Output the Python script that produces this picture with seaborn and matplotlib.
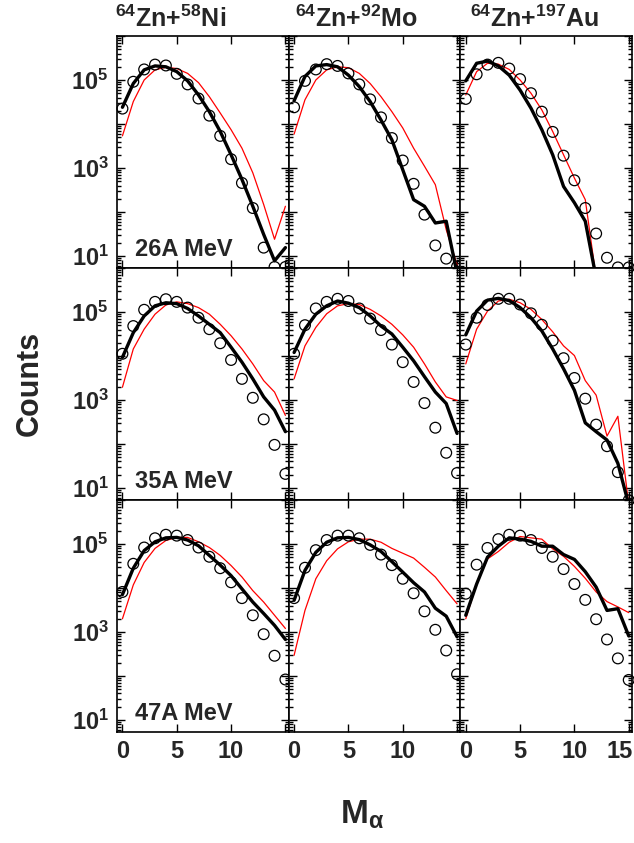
import numpy as np
import pandas as pd
import matplotlib
matplotlib.use("Agg")
import matplotlib.pyplot as plt
import matplotlib.transforms as mtransforms
import seaborn as sns
from matplotlib.ticker import LogLocator, FixedLocator, FuncFormatter, NullFormatter

# ---------------- data (log10 of counts) ----------------
mult = list(range(16))

# 26A MeV
exp_ni_26 = [4.35, 4.96, 5.24, 5.35, 5.33, 5.14, 4.90, 4.58, 4.19, 3.73, 3.20, 2.66, 2.09, 1.19, 0.75, 0.75]
blk_ni_26 = [4.38, 4.92, 5.23, 5.32, 5.30, 5.19, 4.98, 4.66, 4.28, 3.83, 3.30, 2.74, 2.13, 1.49, 0.89, 1.19]
red_ni_26 = [3.73, 4.51, 5.00, 5.23, 5.29, 5.26, 5.15, 4.94, 4.62, 4.25, 3.87, 3.45, 2.89, 2.17, 1.38, 2.13]

exp_mo_26 = [4.38, 4.98, 5.24, 5.36, 5.32, 5.15, 4.90, 4.56, 4.15, 3.68, 3.17, 2.64, 1.94, 1.24, 0.94, 0.76]
blk_mo_26 = [4.53, 5.08, 5.32, 5.35, 5.30, 5.11, 4.85, 4.51, 4.09, 3.64, 2.96, 2.28, 2.13, 1.75, 1.79, 0.60]
red_mo_26 = [3.77, 4.55, 5.00, 5.23, 5.30, 5.28, 5.15, 4.92, 4.62, 4.28, 3.91, 3.45, 3.04, 2.62, 1.60, 0.80]

exp_au_26 = [4.57, 5.13, 5.35, 5.39, 5.26, 5.02, 4.70, 4.28, 3.82, 3.28, 2.72, 2.09, 1.51, 0.96, 0.74, 0.74]
blk_au_26 = [4.98, 5.38, 5.43, 5.32, 5.11, 4.77, 4.36, 3.87, 3.30, 2.58, 2.21, 1.79, 0.50, 0.0, 0.0, 0.0]
red_au_26 = [4.66, 5.19, 5.38, 5.36, 5.24, 5.00, 4.70, 4.32, 3.83, 3.30, 2.77, 2.28, 0.50, 0.0, 0.0, 0.0]

# 35A MeV
exp_ni_35 = [4.05, 4.68, 5.05, 5.23, 5.29, 5.23, 5.10, 4.87, 4.61, 4.29, 3.91, 3.48, 3.05, 2.56, 1.98, 1.32]
blk_ni_35 = [3.97, 4.53, 4.91, 5.14, 5.21, 5.19, 5.08, 4.91, 4.72, 4.53, 4.20, 3.86, 3.48, 3.07, 2.77, 2.28]
red_ni_35 = [3.29, 4.16, 4.61, 4.95, 5.16, 5.23, 5.19, 5.10, 4.95, 4.72, 4.46, 4.16, 3.82, 3.44, 3.18, 2.65]

exp_mo_35 = [4.05, 4.70, 5.08, 5.23, 5.30, 5.25, 5.08, 4.85, 4.59, 4.26, 3.86, 3.41, 2.93, 2.37, 1.80, 1.34]
blk_mo_35 = [4.08, 4.61, 4.95, 5.14, 5.25, 5.20, 5.10, 4.91, 4.68, 4.50, 4.20, 3.89, 3.53, 3.18, 2.92, 2.24]
red_mo_35 = [3.48, 4.23, 4.65, 4.96, 5.14, 5.19, 5.17, 5.06, 4.91, 4.72, 4.48, 4.20, 3.82, 3.41, 3.07, 2.99]

exp_au_35 = [4.26, 4.87, 5.16, 5.30, 5.30, 5.17, 4.97, 4.71, 4.35, 3.95, 3.50, 3.03, 2.44, 1.95, 1.36, 0.72]
blk_au_35 = [4.48, 5.02, 5.27, 5.31, 5.26, 5.10, 4.87, 4.57, 4.16, 3.71, 3.22, 2.48, 2.28, 2.09, 1.56, 0.62]
red_au_35 = [3.82, 4.61, 5.02, 5.25, 5.29, 5.21, 5.06, 4.83, 4.55, 4.23, 4.01, 3.44, 3.11, 2.18, 2.63, 0.62]

# 47A MeV
exp_ni_47 = [3.91, 4.55, 4.92, 5.13, 5.21, 5.19, 5.09, 4.92, 4.71, 4.45, 4.13, 3.77, 3.38, 2.95, 2.46, 1.92]
blk_ni_47 = [3.85, 4.45, 4.85, 5.05, 5.14, 5.15, 5.09, 4.96, 4.74, 4.52, 4.28, 3.98, 3.68, 3.42, 3.15, 2.83]
red_ni_47 = [3.30, 4.07, 4.58, 4.90, 5.08, 5.15, 5.15, 5.05, 4.92, 4.74, 4.51, 4.25, 3.94, 3.68, 3.38, 3.08]

exp_mo_47 = [3.77, 4.46, 4.86, 5.09, 5.19, 5.19, 5.13, 4.98, 4.76, 4.52, 4.21, 3.88, 3.47, 3.05, 2.58, 2.04]
blk_mo_47 = [3.72, 4.40, 4.81, 5.04, 5.14, 5.15, 5.10, 4.98, 4.83, 4.60, 4.36, 4.12, 3.91, 3.54, 3.36, 2.89]
red_mo_47 = [2.47, 3.49, 4.21, 4.62, 4.89, 5.05, 5.11, 5.11, 5.04, 4.90, 4.79, 4.68, 4.47, 4.25, 3.94, 3.64]

exp_au_47 = [3.87, 4.53, 4.91, 5.11, 5.21, 5.19, 5.09, 4.91, 4.71, 4.43, 4.09, 3.73, 3.29, 2.83, 2.40, 1.91]
blk_au_47 = [3.38, 4.09, 4.70, 4.95, 5.14, 5.11, 5.06, 4.95, 4.95, 4.76, 4.65, 4.37, 4.02, 3.49, 3.53, 2.91]
red_au_47 = [3.30, 4.09, 4.66, 4.83, 5.04, 5.17, 5.14, 5.11, 4.89, 4.72, 4.49, 4.22, 3.91, 3.69, 3.57, 3.44]

titles = [r"$^{64}$Zn+$^{58}$Ni", r"$^{64}$Zn+$^{92}$Mo", r"$^{64}$Zn+$^{197}$Au"]
energies = ["26A MeV", "35A MeV", "47A MeV"]
x_ticks = [0, 5, 10, 15]

panels = [
    [(exp_ni_26, blk_ni_26, red_ni_26), (exp_mo_26, blk_mo_26, red_mo_26), (exp_au_26, blk_au_26, red_au_26)],
    [(exp_ni_35, blk_ni_35, red_ni_35), (exp_mo_35, blk_mo_35, red_mo_35), (exp_au_35, blk_au_35, red_au_35)],
    [(exp_ni_47, blk_ni_47, red_ni_47), (exp_mo_47, blk_mo_47, red_mo_47), (exp_au_47, blk_au_47, red_au_47)],
]

# ---------------- style ----------------
sns.set_style("ticks")
plt.rcParams["font.family"] = ["Liberation Sans", "DejaVu Sans"]
plt.rcParams["font.weight"] = "bold"
plt.rcParams["mathtext.fontset"] = "custom"
plt.rcParams["mathtext.rm"] = "Liberation Sans:bold"
plt.rcParams["mathtext.bf"] = "Liberation Sans:bold"
plt.rcParams["mathtext.it"] = "Liberation Sans"
plt.rcParams["mathtext.default"] = "rm"

W, H = 634, 843
fig, axes = plt.subplots(3, 3, figsize=(W / 100, H / 100), dpi=100)
fig.subplots_adjust(left=117 / W, right=632 / W, top=1 - 36 / H, bottom=1 - 732 / H,
                    wspace=0, hspace=0)

ymin, ymax = 10 ** 0.727, 1e6


def ylab(v, pos):
    e = int(round(np.log10(v)))
    if e in (1, 3, 5):
        return r"$\mathbf{10^{%d}}$" % e
    return ""


for r in range(3):
    for c in range(3):
        ax = axes[r, c]
        e_vals, b_vals, r_vals = panels[r][c]
        df = pd.DataFrame({
            "M": mult,
            "exp": 10 ** np.array(e_vals),
            "blk": 10 ** np.array(b_vals),
            "red": 10 ** np.array(r_vals),
        })
        sns.lineplot(data=df, x="M", y="red", ax=ax, color="red", linewidth=0.9, zorder=2)
        sns.lineplot(data=df, x="M", y="blk", ax=ax, color="black", linewidth=2.4, zorder=3)
        sns.scatterplot(data=df, x="M", y="exp", ax=ax, marker="o", s=60,
                        facecolor="none", edgecolor="black", linewidth=0.9,
                        zorder=4, clip_on=False)
        ax.set_yscale("log")
        ax.set_ylim(ymin, ymax)
        ax.set_xlim(-0.5, 15.3)
        ax.set_xlabel("")
        ax.set_ylabel("")
        ax.xaxis.set_major_locator(FixedLocator(x_ticks))
        ax.yaxis.set_major_locator(FixedLocator([1e1, 1e2, 1e3, 1e4, 1e5, 1e6]))
        ax.yaxis.set_minor_locator(LogLocator(base=10, subs=np.arange(2, 10), numticks=20))
        ax.yaxis.set_minor_formatter(NullFormatter())
        if c == 0:
            ax.yaxis.set_major_formatter(FuncFormatter(ylab))
        else:
            ax.yaxis.set_major_formatter(NullFormatter())
        if r == 2:
            if c < 2:
                ax.set_xticklabels(["0", "5", "10", ""])
            else:
                ax.set_xticklabels(["0", "5", "10", "15"])
        else:
            ax.xaxis.set_major_formatter(NullFormatter())
        ax.tick_params(which="both", direction="in", top=True, right=True,
                       labelsize=17, width=1.0, color="black")
        ax.tick_params(which="major", length=6, pad=6)
        ax.tick_params(which="minor", length=3)
        for s in ax.spines.values():
            s.set_linewidth(1.2)
            s.set_color("black")
        if c == 0:
            ax.text(0.105, 0.05, energies[r], transform=ax.transAxes, fontsize=17,
                    fontweight="bold", ha="left", va="baseline")

# nudge the last "15" label so it stays inside the figure
lbl = axes[2, 2].get_xticklabels()[-1]
lbl.set_transform(lbl.get_transform() + mtransforms.ScaledTranslation(-9 / 100, 0, fig.dpi_scale_trans))

title_x = [171, 357, 535]
for c in range(3):
    fig.text(title_x[c] / W, 1 - 27 / H, titles[c], fontsize=18, fontweight="bold",
             ha="center", va="baseline")

fig.text(30 / W, 1 - 383 / H, "Counts", rotation=90, fontsize=22, fontweight="bold",
         ha="center", va="center")
fig.text(362 / W, 1 - 815 / H, r"M$_{\alpha}$", fontsize=24, fontweight="bold",
         ha="center", va="center")

fig.savefig("out.png", dpi=100)
